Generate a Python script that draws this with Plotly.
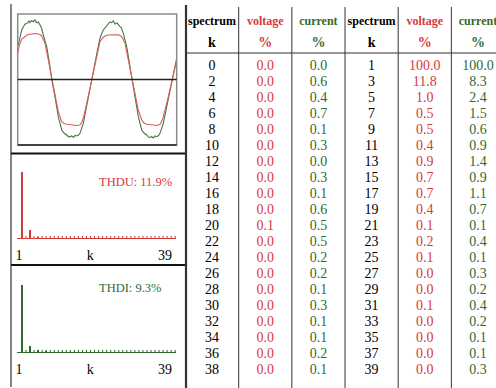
import plotly.graph_objects as go

W, H = 496, 388

# ---------------- data ----------------
# waveform (sample position, amplitude)
wave_t_current = [18.3, 21.7, 25, 27, 29, 30, 31.5, 33.3, 35, 36.7, 38.5, 40, 41.5, 43.3, 46.7, 50, 51.7, 55,
                  58.3, 61.7, 64, 66.7, 69, 71.7, 73.5, 75, 76.7, 78.5, 80, 83.3, 86.7, 90, 92.3, 95, 96.7, 98.3,
                  100, 103.3, 106, 108.3, 110, 111.7, 113.5, 115, 117, 120, 121.5, 123.3, 126.7, 130, 132.3, 135,
                  138.3, 141.7, 144, 146.7, 149, 151.7, 153.5, 155, 156.7, 158.5, 160, 163.3, 166.7, 170, 173.3, 176.7]
wave_current = [34.5, 49.5, 55.5, 56, 58.5, 56.8, 59, 57.8, 59.5, 56.8, 57.5, 53.5, 51.5, 44.5, 32.8, 12.8, 0.2,
                -17.2, -37.2, -50.5, -53.5, -55.5, -57.5, -56.5, -58, -56, -56.5, -55.5, -53.8, -43.8, -27.2, -10.5,
                0.2, 16.5, 25.5, 35.5, 41.5, 49.5, 52.5, 54.5, 57.5, 56.8, 58.5, 55.5, 56.5, 52.8, 51.5, 46.2, 32.8,
                12.8, -0.5, -17.2, -37.2, -50.5, -53.5, -55.5, -58, -57.2, -58.5, -56.5, -57.2, -56, -53.8, -43.8,
                -27.2, -10.5, 6.2, 21.2]
wave_t_voltage = [17.7, 19.5, 21.7, 24, 26.7, 29, 31.7, 35, 38.3, 40, 41.7, 43.3, 45, 48.3, 51.7, 55, 58.3, 61.7,
                  64, 66.7, 70, 73.3, 76.5, 80, 81.7, 83.3, 86.7, 91.7, 95, 96.7, 98.3, 100, 102.5, 105, 108, 111.7,
                  115, 118.3, 120, 121.7, 123.3, 125, 128.3, 132.3, 135, 138.3, 141.7, 144, 146.7, 150, 153.3,
                  156.5, 160, 161.7, 163.3, 166.7, 170, 173.3, 176.7]
wave_voltage = [26.2, 34.5, 40.2, 42.5, 44.5, 45, 45.5, 46, 45.5, 45, 43.5, 40.5, 36.2, 19.5, 1.2, -17.2, -32.2,
                -42.2, -44, -44.8, -45.5, -45.5, -46, -45.5, -42.5, -38.8, -23.8, -0.5, 16.2, 22.8, 31.2, 37.8,
                41.5, 43.5, 44.5, 44.8, 45, 44.8, 44, 42.8, 40, 36.2, 19.5, 0.2, -15.5, -30.5, -40.5, -43.5, -44.8,
                -45.5, -45.5, -46, -44.8, -42, -37.2, -23.8, -10.5, 4.5, 19.5]

k_even = list(range(0, 40, 2))
k_odd = list(range(1, 40, 2))
volt_even = [0.0, 0.0, 0.0, 0.0, 0.0, 0.0, 0.0, 0.0, 0.0, 0.0, 0.1, 0.0, 0.0, 0.0, 0.0, 0.0, 0.0, 0.0, 0.0, 0.0]
curr_even = [0.0, 0.6, 0.4, 0.7, 0.1, 0.3, 0.0, 0.3, 0.1, 0.6, 0.5, 0.5, 0.2, 0.2, 0.1, 0.3, 0.1, 0.1, 0.2, 0.1]
volt_odd = [100.0, 11.8, 1.0, 0.5, 0.5, 0.4, 0.9, 0.7, 0.7, 0.4, 0.1, 0.2, 0.1, 0.0, 0.0, 0.1, 0.0, 0.0, 0.0, 0.0]
curr_odd = [100.0, 8.3, 2.4, 1.5, 0.6, 0.9, 1.4, 0.9, 1.1, 0.7, 0.1, 0.4, 0.1, 0.3, 0.2, 0.4, 0.2, 0.1, 0.1, 0.3]

thdu = 11.9
thdi = 9.3

header_top = ["spectrum", "voltage", "current", "spectrum", "voltage", "current"]
header_bot = ["k", "%", "%", "k", "%", "%"]
axis_labels = ["1", "k", "39"]

# ---------------- styling ----------------
RED_TXT = "#d9383c"
GRN_TXT = "#2f6b32"
RED_BAR = "#d23a3a"
GRN_BAR = "#2f6a2f"
RED_WAVE = "#e2595b"
GRN_WAVE = "#3f7a42"
SERIF = "Liberation Serif, Times New Roman, serif"


def px(x):
    return x / W


def py(y):
    return 1 - y / H


fig = go.Figure()

# waveform
fig.add_trace(go.Scatter(x=wave_t_current, y=wave_current, mode="lines",
                         line=dict(color=GRN_WAVE, width=1.1), xaxis="x", yaxis="y", hoverinfo="skip"))
fig.add_trace(go.Scatter(x=wave_t_voltage, y=wave_voltage, mode="lines",
                         line=dict(color=RED_WAVE, width=1.1), xaxis="x", yaxis="y", hoverinfo="skip"))

# spectra
k_all = sorted(k_even + k_odd)
vmap = dict(zip(k_even, volt_even)); vmap.update(zip(k_odd, volt_odd))
cmap = dict(zip(k_even, curr_even)); cmap.update(zip(k_odd, curr_odd))
k_spec = [k for k in k_all if k >= 1]
v_spec = [vmap[k] for k in k_spec]
c_spec = [cmap[k] for k in k_spec]

for vals, col, xa, ya in [(v_spec, RED_BAR, "x2", "y2"), (c_spec, GRN_BAR, "x3", "y3")]:
    fig.add_trace(go.Bar(x=k_spec, y=vals, width=0.35, marker=dict(color=col, line=dict(width=0)),
                         xaxis=xa, yaxis=ya, hoverinfo="skip"))
    fig.add_trace(go.Scatter(x=k_spec, y=[0] * len(k_spec), mode="markers",
                             marker=dict(symbol="line-ns", size=3, line=dict(color=col, width=1)),
                             xaxis=xa, yaxis=ya, hoverinfo="skip"))

# table
rows = list(range(len(k_even)))
columns = [
    ([str(k) for k in k_even], "black"),
    ([f"{v:.1f}" for v in volt_even], RED_TXT),
    ([f"{v:.1f}" for v in curr_even], GRN_TXT),
    ([str(k) for k in k_odd], "black"),
    ([f"{v:.1f}" for v in volt_odd], RED_TXT),
    ([f"{v:.1f}" for v in curr_odd], GRN_TXT),
]
hcolors = ["black", RED_TXT, GRN_TXT, "black", RED_TXT, GRN_TXT]
for i, (txt, col) in enumerate(columns):
    fig.add_trace(go.Scatter(x=[i] * len(txt), y=rows, text=txt, mode="text",
                             textfont=dict(family=SERIF, size=14, color=col),
                             xaxis="x4", yaxis="y4", hoverinfo="skip"))
for i in range(6):
    fig.add_trace(go.Scatter(x=[i, i], y=[-2.75, -1.42], text=[header_top[i], header_bot[i]], mode="text",
                             textfont=dict(family=SERIF, size=[12, 14], color=hcolors[i], weight="bold"),
                             xaxis="x4", yaxis="y4", hoverinfo="skip"))

hidden = dict(visible=False, showgrid=False, zeroline=False, fixedrange=True)
spec_x = dict(range=[-0.24, 39.2], showline=True, linewidth=1, ticks="", showgrid=False, zeroline=False,
              tickmode="array", tickvals=[0.26, 17.9, 36.5], ticktext=axis_labels,
              tickfont=dict(family=SERIF, size=14, color="black"), ticklabelstandoff=4)

fig.update_layout(
    width=W, height=H, margin=dict(l=0, r=0, t=0, b=0),
    paper_bgcolor="white", plot_bgcolor="white", showlegend=False, hovermode=False,
    xaxis=dict(domain=[px(17.7), px(176.7)], range=[17.7, 176.7], **hidden),
    yaxis=dict(domain=[py(145), py(14)], range=[-65.5, 65.5], **hidden),
    xaxis2=dict(domain=[px(17), px(176)], anchor="y2", linecolor=RED_BAR, **spec_x),
    yaxis2=dict(domain=[py(238), py(172)], range=[0, 100], anchor="x2", **hidden),
    xaxis3=dict(domain=[px(17), px(176)], anchor="y3", linecolor=GRN_BAR, **spec_x),
    yaxis3=dict(domain=[py(352), py(285)], range=[0, 100], anchor="x3", **hidden),
    xaxis4=dict(domain=[px(186), 1], range=[-0.489, 5.338], anchor="y4", **hidden),
    yaxis4=dict(domain=[0, 1], range=[20.125, -4.125], anchor="x4", **hidden),
    bargap=0,
)

shapes = []
# waveform box
shapes.append(dict(type="rect", xref="x domain", yref="y domain", x0=0, x1=1, y0=0, y1=1,
                   line=dict(color="#8a8a8a", width=1.5)))
shapes.append(dict(type="line", xref="x domain", yref="y domain", x0=0, x1=1, y0=0, y1=0,
                   line=dict(color="#222", width=1.5)))
shapes.append(dict(type="line", xref="x domain", yref="y", x0=0, x1=1, y0=0, y1=0,
                   line=dict(color="#222", width=1.3)))
# frame lines
shapes.append(dict(type="line", xref="paper", yref="paper", x0=px(11), x1=px(11), y0=py(4), y1=py(387),
                   line=dict(color="#333", width=1.2)))
for yy in (153.5, 265):
    shapes.append(dict(type="line", xref="paper", yref="paper", x0=px(11), x1=px(186), y0=py(yy), y1=py(yy),
                       line=dict(color="#111", width=2.2)))
shapes.append(dict(type="line", xref="paper", yref="paper", x0=px(186), x1=px(186), y0=py(5), y1=py(388),
                   line=dict(color="#333", width=2.2)))
# table lines
for b in (0.5, 1.5, 2.5, 3.5, 4.5):
    shapes.append(dict(type="line", xref="x4", yref="paper", x0=b, x1=b, y0=py(7), y1=py(388),
                       line=dict(color="#555", width=1.2)))
shapes.append(dict(type="line", xref="paper", yref="paper", x0=px(186), x1=1, y0=py(53), y1=py(53),
                   line=dict(color="#333", width=1.2)))
fig.update_layout(shapes=shapes)

fig.add_annotation(x=px(97), y=py(182), xref="paper", yref="paper", xanchor="left", yanchor="middle",
                   text=f"THDU: {thdu}%", showarrow=False, font=dict(family=SERIF, size=12.5, color=RED_TXT))
fig.add_annotation(x=px(97), y=py(288), xref="paper", yref="paper", xanchor="left", yanchor="middle",
                   text=f"THDI: {thdi}%", showarrow=False, font=dict(family=SERIF, size=12.5, color=GRN_TXT))

fig.write_html("out.html", config={"displayModeBar": False, "staticPlot": True})
